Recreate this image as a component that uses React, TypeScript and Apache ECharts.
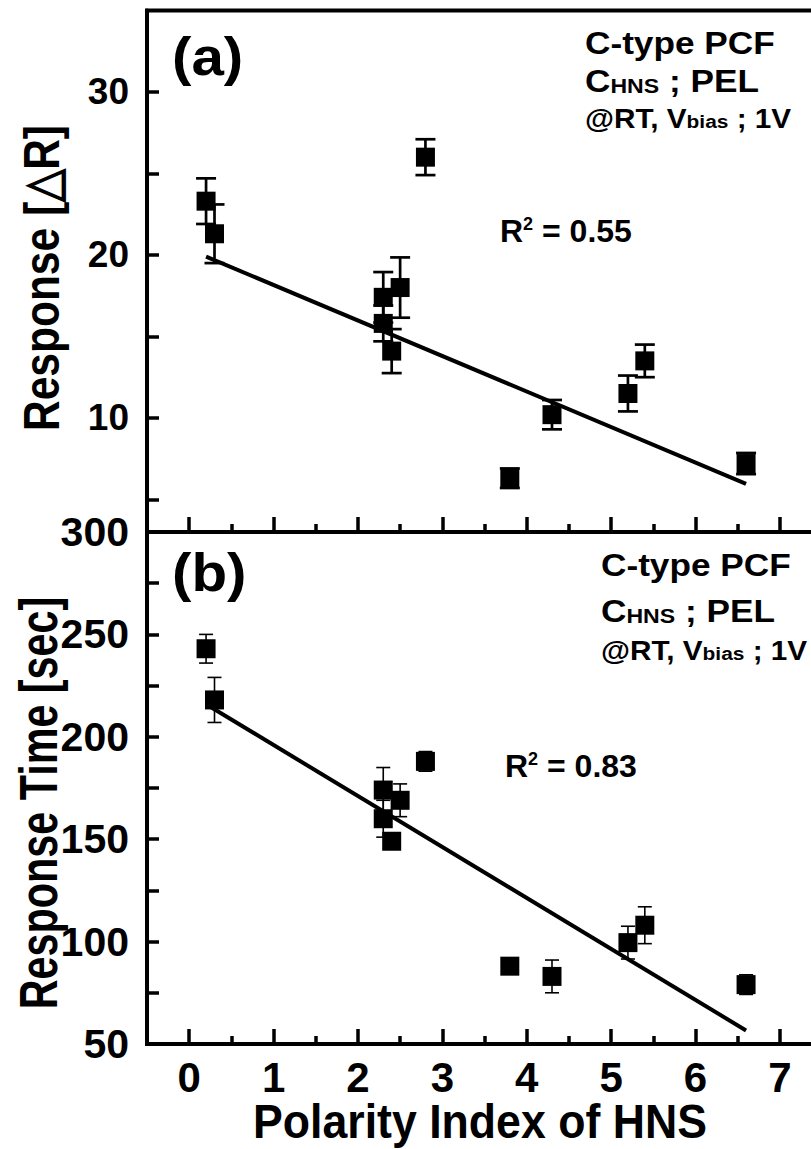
import React, { useEffect, useRef } from "react";
import * as echarts from "echarts";

// ---- data ----
const polarity = [0.2, 0.3, 2.3, 2.5, 2.3, 2.4, 2.8, 3.8, 4.3, 5.2, 5.4, 6.6];
const responseA = [23.3, 21.3, 17.4, 18.0, 15.8, 14.1, 26.0, 6.3, 10.2, 11.5, 13.5, 7.2];
const responseErrA = [1.4, 1.8, 1.55, 1.85, 1.1, 1.35, 1.1, 0.6, 0.9, 1.1, 1.0, 0.65];
const timeB = [243, 218, 174, 169, 160, 149, 188, 88, 83, 99.5, 108, 79];
const timeErrB = [7, 11, 11, 8, 9, 3, 4.8, 1.5, 8, 8, 9, 4.8];
const fitA = [
  [0.2, 19.9],
  [6.6, 5.95],
];
const fitB = [
  [0.2, 215.9],
  [6.6, 56.6],
];
const xMajorTicks = [0, 1, 2, 3, 4, 5, 6, 7];
const xMinorTicks = [0.5, 1.5, 2.5, 3.5, 4.5, 5.5, 6.5];
const yTicksA = [5, 10, 15, 20, 25, 30];
const yLabelsA = [10, 20, 30];
const yTicksB = [75, 100, 125, 150, 175, 200, 225, 250, 275];
const yLabelsB = [50, 100, 150, 200, 250, 300];

const FONT = "'Liberation Sans', Arial, Helvetica, sans-serif";

function makeErrorRender(lw: number, cap: number) {
  return (params: any, api: any) => {
    const x = api.value(0);
    const y = api.value(1);
    const e = api.value(2);
    const hi = api.coord([x, y + e]);
    const lo = api.coord([x, y - e]);
    const style = { stroke: "#000", lineWidth: lw };
    return {
      type: "group",
      children: [
        { type: "line", shape: { x1: hi[0], y1: hi[1], x2: lo[0], y2: lo[1] }, style },
        { type: "line", shape: { x1: hi[0] - cap, y1: hi[1], x2: hi[0] + cap, y2: hi[1] }, style },
        { type: "line", shape: { x1: lo[0] - cap, y1: lo[1], x2: lo[0] + cap, y2: lo[1] }, style },
      ],
    };
  };
}

function xAxes(gridIndex: number, showLabels: boolean) {
  return [
    {
      type: "value",
      gridIndex,
      position: "bottom",
      min: -0.5,
      max: 7.5,
      axisLine: { show: true, onZero: false, lineStyle: { color: "#000", width: 4 } },
      axisTick: {
        show: true,
        inside: true,
        length: 15,
        customValues: xMajorTicks,
        lineStyle: { color: "#000", width: 3.5 },
      },
      axisLabel: {
        show: showLabels,
        customValues: xMajorTicks,
        color: "#000",
        fontSize: 42,
        fontWeight: "bold",
        fontFamily: FONT,
        margin: 12,
      },
      splitLine: { show: false },
    },
    {
      type: "value",
      gridIndex,
      position: "bottom",
      min: -0.5,
      max: 7.5,
      axisLine: { show: false, onZero: false },
      axisTick: {
        show: true,
        inside: true,
        length: 8,
        customValues: xMinorTicks,
        lineStyle: { color: "#000", width: 3.5 },
      },
      axisLabel: { show: false },
      splitLine: { show: false },
    },
  ];
}

export default function App() {
  const ref = useRef<HTMLDivElement>(null);

  useEffect(() => {
    if (!ref.current) return;
    const chart = echarts.init(ref.current, undefined, { renderer: "svg" });

    const dataA = polarity.map((x, i) => [x, responseA[i]]);
    const errA = polarity.map((x, i) => [x, responseA[i], responseErrA[i]]);
    const dataB = polarity.map((x, i) => [x, timeB[i]]);
    const errB = polarity.map((x, i) => [x, timeB[i], timeErrB[i]]);

    const bold = { fontWeight: "bold", fontFamily: FONT, fill: "#000" };
    const richBlock = (big: number, small: number) => ({
      b: { fontSize: big, fontWeight: "bold", fontFamily: FONT, verticalAlign: "bottom" },
      s: { fontSize: small, fontWeight: "bold", fontFamily: FONT, verticalAlign: "bottom", padding: [0, 0, 1, 0] },
    });
    const richSup = {
      b: { fontSize: 32, fontWeight: "bold", fontFamily: FONT, verticalAlign: "bottom" },
      s: { fontSize: 18, fontWeight: "bold", fontFamily: FONT, verticalAlign: "top" },
    };

    chart.setOption({
      animation: false,
      backgroundColor: "#fff",
      grid: [
        { left: 147, top: 10.5, width: 675, height: 521.5, show: true, borderColor: "#000", borderWidth: 4 },
        { left: 147, top: 532, width: 675, height: 512, show: true, borderColor: "#000", borderWidth: 4 },
      ],
      xAxis: [...xAxes(0, false), ...xAxes(1, true)],
      yAxis: [
        {
          type: "value",
          gridIndex: 0,
          min: 3,
          max: 35,
          axisLine: { show: true, onZero: false, lineStyle: { color: "#000", width: 4 } },
          axisTick: {
            show: true,
            inside: true,
            length: 12,
            customValues: yTicksA,
            lineStyle: { color: "#000", width: 3.5 },
          },
          axisLabel: {
            customValues: yLabelsA,
            color: "#000",
            fontSize: 37,
            fontWeight: "bold",
            fontFamily: FONT,
            margin: 18,
          },
          splitLine: { show: false },
        },
        {
          type: "value",
          gridIndex: 1,
          min: 50,
          max: 300,
          axisLine: { show: true, onZero: false, lineStyle: { color: "#000", width: 4 } },
          axisTick: {
            show: true,
            inside: true,
            length: 12,
            customValues: yTicksB,
            lineStyle: { color: "#000", width: 3.5 },
          },
          axisLabel: {
            customValues: yLabelsB,
            color: "#000",
            fontSize: 41,
            fontWeight: "bold",
            fontFamily: FONT,
            margin: 18,
          },
          splitLine: { show: false },
        },
      ],
      series: [
        {
          type: "line",
          xAxisIndex: 0,
          yAxisIndex: 0,
          data: fitA,
          symbol: "none",
          lineStyle: { color: "#000", width: 4 },
          z: 2,
        },
        {
          type: "custom",
          xAxisIndex: 0,
          yAxisIndex: 0,
          data: errA,
          encode: { x: 0, y: 1 },
          renderItem: makeErrorRender(2.7, 10),
          z: 3,
        },
        {
          type: "scatter",
          xAxisIndex: 0,
          yAxisIndex: 0,
          data: dataA,
          symbol: "rect",
          symbolSize: 19,
          itemStyle: { color: "#000", opacity: 1 },
          z: 4,
        },
        {
          type: "line",
          xAxisIndex: 2,
          yAxisIndex: 1,
          data: fitB,
          symbol: "none",
          lineStyle: { color: "#000", width: 4 },
          z: 2,
        },
        {
          type: "custom",
          xAxisIndex: 2,
          yAxisIndex: 1,
          data: errB,
          encode: { x: 0, y: 1 },
          renderItem: makeErrorRender(1.6, 7),
          z: 3,
        },
        {
          type: "scatter",
          xAxisIndex: 2,
          yAxisIndex: 1,
          data: dataB,
          symbol: "rect",
          symbolSize: 19,
          itemStyle: { color: "#000", opacity: 1 },
          z: 4,
        },
      ],
      graphic: [
        // y axis titles
        {
          type: "text",
          x: 42,
          y: 278,
          rotation: Math.PI / 2,
          scaleX: 0.85,
          style: { ...bold, text: "Response [\u25B3R]", fontSize: 50, align: "center", verticalAlign: "middle" },
        },
        {
          type: "text",
          x: 39,
          y: 803,
          rotation: Math.PI / 2,
          scaleX: 0.78,
          style: { ...bold, text: "Response Time [sec]", fontSize: 53, align: "center", verticalAlign: "middle" },
        },
        // x axis title
        {
          type: "text",
          x: 480,
          y: 1121,
          scaleX: 0.93,
          style: { ...bold, text: "Polarity Index of HNS", fontSize: 48, align: "center", verticalAlign: "middle" },
        },
        // panel labels
        { type: "text", x: 172, y: 56, scaleX: 1.08, style: { ...bold, text: "(a)", fontSize: 54, verticalAlign: "middle" } },
        { type: "text", x: 172, y: 572, scaleX: 1.08, style: { ...bold, text: "(b)", fontSize: 54, verticalAlign: "middle" } },
        // top annotations
        { type: "text", x: 585, y: 43, scaleX: 1.1, style: { ...bold, text: "C-type PCF", fontSize: 32, verticalAlign: "middle" } },
        {
          type: "text",
          x: 585,
          y: 81,
          scaleX: 1.1,
          style: { ...bold, text: "{b|C}{s|HNS}{b| ; PEL}", verticalAlign: "middle", rich: richBlock(32, 21) },
        },
        {
          type: "text",
          x: 585,
          y: 118,
          scaleX: 1.1,
          style: { ...bold, text: "{b|@RT, V}{s|bias}{b| ; 1V}", verticalAlign: "middle", rich: richBlock(27, 19) },
        },
        {
          type: "text",
          x: 500,
          y: 231,
          style: { ...bold, text: "{b|R}{s|2}{b| = 0.55}", verticalAlign: "middle", rich: richSup },
        },
        // bottom annotations
        { type: "text", x: 601, y: 565, scaleX: 1.1, style: { ...bold, text: "C-type PCF", fontSize: 32, verticalAlign: "middle" } },
        {
          type: "text",
          x: 601,
          y: 611,
          scaleX: 1.1,
          style: { ...bold, text: "{b|C}{s|HNS}{b| ; PEL}", verticalAlign: "middle", rich: richBlock(32, 21) },
        },
        {
          type: "text",
          x: 601,
          y: 650,
          scaleX: 1.1,
          style: { ...bold, text: "{b|@RT, V}{s|bias}{b| ; 1V}", verticalAlign: "middle", rich: richBlock(27, 19) },
        },
        {
          type: "text",
          x: 505,
          y: 766,
          style: { ...bold, text: "{b|R}{s|2}{b| = 0.83}", verticalAlign: "middle", rich: richSup },
        },
      ],
    });

    return () => chart.dispose();
  }, []);

  return (
    <div style={{ position: "absolute", left: 0, top: 0, width: 811, height: 1149, overflow: "hidden", background: "#fff" }}>
      <div ref={ref} style={{ width: 840, height: 1149 }} />
    </div>
  );
}
